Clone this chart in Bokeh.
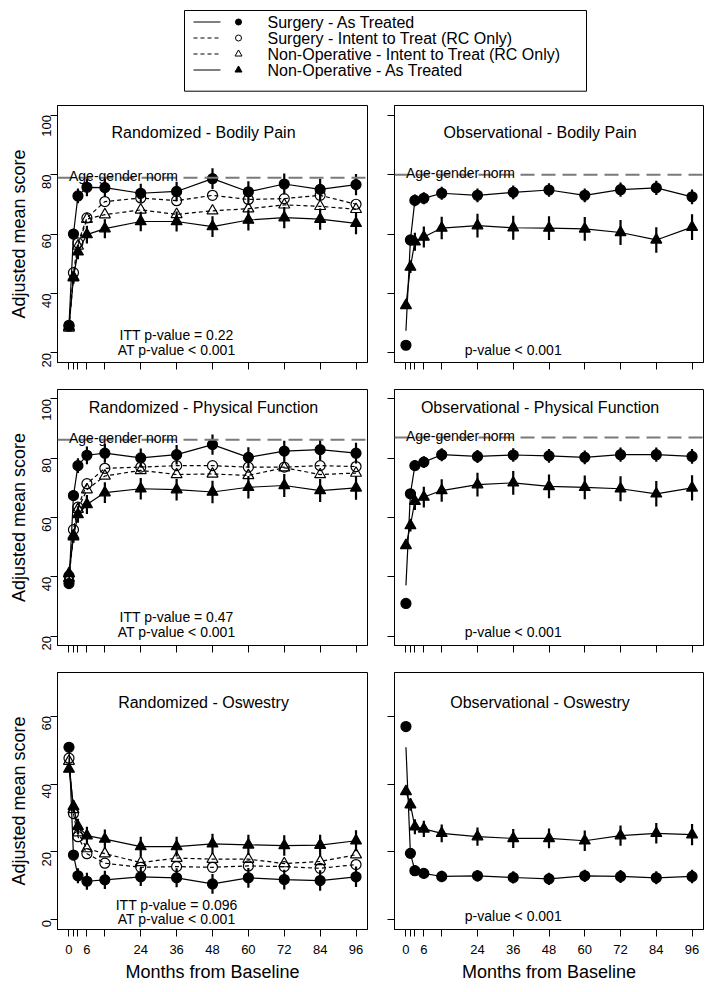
import math
from bokeh.plotting import figure
from bokeh.layouts import column, row
from bokeh.models import Range1d, FixedTicker, Label, Span
from bokeh.embed import file_html
from bokeh.resources import INLINE
from bokeh.core.properties import value

FONT = "Liberation Sans"

# ---------------- data ----------------
months = [0, 1.5, 3, 6, 12, 24, 36, 48, 60, 72, 84, 96]
month_ticks = [0, 1.5, 3, 6, 12, 24, 36, 48, 60, 72, 84, 96]
month_tick_labels = ["0", "", "", "6", "", "24", "36", "48", "60", "72", "84", "96"]
series_labels = ["Surgery - As Treated",
                 "Surgery - Intent to Treat (RC Only)",
                 "Non-Operative - Intent to Treat (RC Only)",
                 "Non-Operative - As Treated"]

# Randomized - Bodily Pain
rbp_surg_at = [29.3, 60.0, 72.8, 75.7, 75.6, 73.7, 74.3, 78.6, 74.2, 76.8, 75.0, 76.6]
rbp_surg_itt = [29.0, 47.0, 57.0, 65.4, 70.9, 72.1, 71.2, 73.0, 71.6, 71.9, 73.0, 70.0]
rbp_nonop_itt = [28.4, 45.5, 56.0, 65.0, 66.5, 68.1, 66.6, 67.8, 68.5, 69.8, 69.3, 68.3]
rbp_nonop_at = [28.9, 45.3, 54.0, 59.8, 61.8, 64.2, 64.2, 62.5, 64.7, 65.5, 65.0, 63.6]
rbp_surg_err = [0.8, 1.8, 2.5, 3.0, 3.2, 3.2, 3.3, 3.5, 3.5, 3.5, 3.6, 3.6]
rbp_nonop_err = [0.8, 2.0, 2.5, 3.0, 3.2, 3.3, 3.4, 3.5, 3.5, 3.6, 3.6, 3.7]
rbp_norm = 78.9

# Observational - Bodily Pain
obp_surg_at = [22.6, 58.0, 71.3, 72.0, 73.7, 73.0, 74.0, 74.8, 73.0, 74.9, 75.5, 72.5]
obp_surg_line_start = 27.5
obp_nonop_at = [36.0, 48.9, 57.4, 59.0, 62.0, 62.8, 62.1, 62.0, 61.7, 60.5, 58.0, 62.3]
obp_surg_err = [0.0, 1.5, 2.0, 2.0, 2.2, 2.3, 2.3, 2.3, 2.3, 2.4, 2.4, 2.5]
obp_nonop_err = [0.0, 2.0, 3.0, 3.5, 3.8, 4.0, 4.0, 4.0, 4.0, 4.2, 4.3, 4.3]
obp_norm = 79.9

# Randomized - Physical Function
rpf_surg_at = [37.7, 67.4, 77.5, 81.0, 81.7, 80.1, 81.2, 84.6, 80.3, 82.4, 82.9, 81.7]
rpf_surg_itt = [40.3, 55.9, 63.5, 71.4, 76.6, 77.0, 77.5, 77.5, 77.0, 77.0, 77.5, 77.2]
rpf_nonop_itt = [39.5, 54.0, 62.8, 69.4, 74.0, 75.9, 74.5, 74.7, 74.2, 76.8, 74.5, 75.0]
rpf_nonop_at = [41.1, 53.5, 61.0, 64.4, 68.4, 69.7, 69.4, 68.6, 70.2, 70.8, 69.1, 70.0]
rpf_surg_err = [0.8, 1.8, 2.5, 3.0, 3.2, 3.2, 3.3, 3.4, 3.4, 3.5, 3.5, 3.5]
rpf_nonop_err = [0.8, 2.0, 2.8, 3.2, 3.5, 3.6, 3.7, 3.8, 3.8, 3.9, 3.9, 4.0]
rpf_norm = 86.2

# Observational - Physical Function
opf_surg_at = [31.0, 68.0, 77.5, 78.7, 81.2, 80.6, 81.1, 80.8, 80.3, 81.2, 81.2, 80.6]
opf_surg_line_start = 37.1
opf_nonop_at = [50.6, 57.3, 65.5, 66.9, 69.1, 71.1, 71.7, 70.5, 70.2, 69.7, 68.0, 70.0]
opf_surg_err = [0.0, 1.2, 1.8, 2.0, 2.2, 2.2, 2.3, 2.3, 2.3, 2.4, 2.4, 2.5]
opf_nonop_err = [0.0, 2.0, 3.0, 3.5, 3.8, 4.0, 4.0, 4.0, 4.0, 4.2, 4.3, 4.3]
opf_norm = 87.0

# Randomized - Oswestry
ros_surg_at = [50.8, 19.1, 13.0, 11.4, 11.8, 12.7, 12.4, 10.6, 12.4, 11.9, 11.6, 12.7]
ros_surg_itt = [47.6, 31.3, 24.5, 19.5, 16.7, 15.5, 15.7, 15.5, 15.9, 15.7, 15.2, 16.3]
ros_nonop_itt = [46.7, 32.5, 25.7, 21.0, 19.5, 16.9, 18.2, 17.9, 17.9, 16.6, 17.2, 19.2]
ros_nonop_at = [44.4, 33.4, 27.5, 24.8, 23.8, 21.6, 21.6, 22.4, 22.1, 21.9, 22.0, 23.3]
ros_surg_err = [0.8, 1.5, 2.2, 2.5, 2.7, 2.7, 2.8, 2.9, 2.9, 2.9, 3.0, 3.0]
ros_nonop_err = [0.8, 1.8, 2.3, 2.6, 2.8, 2.9, 2.9, 3.0, 3.0, 3.0, 3.1, 3.1]

# Observational - Oswestry
oos_surg_at = [56.9, 19.6, 14.5, 13.7, 12.8, 13.0, 12.5, 12.1, 13.0, 12.8, 12.4, 12.8]
oos_surg_line_start = 50.8
oos_nonop_at = [37.8, 33.9, 27.4, 26.8, 25.5, 24.5, 24.0, 24.0, 23.3, 24.8, 25.5, 25.1]
oos_surg_err = [0.0, 1.0, 1.5, 1.5, 1.7, 1.7, 1.8, 1.8, 1.8, 1.9, 1.9, 2.0]
oos_nonop_err = [0.0, 1.8, 2.2, 2.4, 2.6, 2.7, 2.8, 2.9, 3.0, 3.0, 3.0, 3.1]

score_ticks = [20, 40, 60, 80, 100]
osw_ticks = [0, 20, 40, 60]

# ---------------- helpers ----------------
X_RANGE = (-3.84, 99.84)
SF_RANGE = (16.8, 103.2)
OSW_RANGE = (-2.8, 72.8)


def make_fig(width, height, left, right, top, bottom, yr):
    p = figure(width=width, height=height, output_backend="svg", toolbar_location=None,
               x_range=Range1d(*X_RANGE), y_range=Range1d(*yr),
               min_border_left=left, min_border_right=right,
               min_border_top=top, min_border_bottom=bottom)
    p.grid.visible = False
    p.outline_line_color = "black"
    p.outline_line_width = 1
    p.background_fill_color = "white"
    p.border_fill_color = "white"
    return p


def style_axes(p, yticks, ylabels, xlabels, ylabel_title):
    p.xaxis.ticker = FixedTicker(ticks=month_ticks)
    p.yaxis.ticker = FixedTicker(ticks=yticks)
    for ax in p.xaxis + p.yaxis:
        ax.major_tick_out = 7
        ax.major_tick_in = 0
        ax.minor_tick_out = 0
        ax.minor_tick_in = 0
        ax.axis_line_color = "black"
        ax.major_tick_line_color = "black"
        ax.major_label_text_font = FONT
        ax.major_label_text_font_size = "13px"
        ax.major_label_text_color = "black"
        ax.axis_label_text_font = FONT
        ax.axis_label_text_font_style = "normal"
        ax.axis_label_text_font_size = "18px"
        ax.axis_label_text_color = "black"
    if xlabels:
        p.xaxis.major_label_overrides = {t: s for t, s in zip(month_ticks, month_tick_labels)}
        p.xaxis.major_label_standoff = 8
        p.xaxis.axis_label = "Months from Baseline"
        p.xaxis.axis_label_standoff = 5
    else:
        p.xaxis.major_label_overrides = {t: "" for t in month_ticks}
        p.xaxis.major_label_standoff = 0
    if ylabels:
        p.yaxis.major_label_orientation = math.pi / 2
        p.yaxis.major_label_standoff = 4
        p.yaxis.axis_label = ylabel_title
        p.yaxis.axis_label_standoff = 6
    else:
        p.yaxis.major_label_overrides = {t: "" for t in yticks}
        p.yaxis.major_label_standoff = 0


def add_series(p, x, y, err, marker, filled, dashed, line_y=None):
    ly = y if line_y is None else line_y
    p.line(x, ly, line_color="black", line_width=1.2,
           line_dash="4 3" if dashed else "solid")
    if err is not None:
        lo = [v - e for v, e in zip(y, err)]
        hi = [v + e for v, e in zip(y, err)]
        p.segment(x0=x, y0=lo, x1=x, y1=hi, line_color="black", line_width=2.2)
    size = 10 if marker == "circle" else 11
    p.scatter(x, y, marker=marker, size=size,
              fill_color="black" if filled else None,
              line_color="black", line_width=1.2)


def add_text(p, x, y, text, size="14px", align="center", baseline="middle", yoff=0):
    p.add_layout(Label(x=x, y=y, text=text, text_font=FONT, text_font_size=size,
                       text_align=align, text_baseline=baseline, text_color="black",
                       y_offset=yoff))


def add_norm(p, norm):
    p.add_layout(Span(location=norm, dimension="width", line_color="#7a7a7a",
                      line_dash="14 7", line_width=2))
    add_text(p, 0, norm, "Age-gender norm", size="14px", align="left",
             baseline="alphabetic", yoff=2)


LW, RW = 380, 331
LB = dict(left=57, right=13)
RB = dict(left=14, right=8)
ROWS = [dict(height=280, top=7, bottom=16),
        dict(height=282, top=11, bottom=15),
        dict(height=330, top=12, bottom=61)]


def rand_panel(r, yr, yticks, title, ty, sa, si, ni, na, se, ne, norm, itt_txt, at_txt, py1, py2, xl):
    p = make_fig(LW, ROWS[r]["height"], LB["left"], LB["right"], ROWS[r]["top"], ROWS[r]["bottom"], yr)
    style_axes(p, yticks, True, xl, "Adjusted mean score")
    if norm is not None:
        add_norm(p, norm)
    add_series(p, months, si, None, "circle", False, True)
    add_series(p, months, ni, None, "triangle", False, True)
    add_series(p, months, na, ne, "triangle", True, False)
    add_series(p, months, sa, se, "circle", True, False)
    add_text(p, 45, ty, title, size="16px")
    add_text(p, 36, py1, itt_txt)
    add_text(p, 36, py2, at_txt)
    return p


def obs_panel(r, yr, yticks, title, ty, sa, sl0, na, se, ne, norm, ptxt, py, xl):
    p = make_fig(RW, ROWS[r]["height"], RB["left"], RB["right"], ROWS[r]["top"], ROWS[r]["bottom"], yr)
    style_axes(p, yticks, False, xl, None)
    if norm is not None:
        add_norm(p, norm)
    add_series(p, months, na, ne, "triangle", True, False)
    add_series(p, months, sa, se, "circle", True, False, line_y=[sl0] + sa[1:])
    add_text(p, 45, ty, title, size="16px")
    add_text(p, 36, py, ptxt)
    return p


p11 = rand_panel(0, SF_RANGE, score_ticks, "Randomized - Bodily Pain", 94,
                 rbp_surg_at, rbp_surg_itt, rbp_nonop_itt, rbp_nonop_at, rbp_surg_err, rbp_nonop_err,
                 rbp_norm, "ITT p-value = 0.22", "AT p-value < 0.001", 25.9, 21.1, False)
p12 = obs_panel(0, SF_RANGE, score_ticks, "Observational - Bodily Pain", 94,
                obp_surg_at, obp_surg_line_start, obp_nonop_at, obp_surg_err, obp_nonop_err,
                obp_norm, "p-value < 0.001", 21.1, False)
p21 = rand_panel(1, SF_RANGE, score_ticks, "Randomized - Physical Function", 97,
                 rpf_surg_at, rpf_surg_itt, rpf_nonop_itt, rpf_nonop_at, rpf_surg_err, rpf_nonop_err,
                 rpf_norm, "ITT p-value = 0.47", "AT p-value < 0.001", 26.4, 21.2, False)
p22 = obs_panel(1, SF_RANGE, score_ticks, "Observational - Physical Function", 97,
                opf_surg_at, opf_surg_line_start, opf_nonop_at, opf_surg_err, opf_nonop_err,
                opf_norm, "p-value < 0.001", 21.2, False)
p31 = rand_panel(2, OSW_RANGE, osw_ticks, "Randomized - Oswestry", 64,
                 ros_surg_at, ros_surg_itt, ros_nonop_itt, ros_nonop_at, ros_surg_err, ros_nonop_err,
                 None, "ITT p-value = 0.096", "AT p-value < 0.001", 4.3, 0.4, True)
p32 = obs_panel(2, OSW_RANGE, osw_ticks, "Observational - Oswestry", 64,
                oos_surg_at, oos_surg_line_start, oos_nonop_at, oos_surg_err, oos_nonop_err,
                None, "p-value < 0.001", 1.1, True)

# ---------------- legend ----------------
LEG_W, LEG_H = LW + RW, 98
leg = figure(width=LEG_W, height=LEG_H, output_backend="svg", toolbar_location=None,
             x_range=Range1d(0, LEG_W), y_range=Range1d(LEG_H, 0), min_border=0)
leg.axis.visible = False
leg.grid.visible = False
leg.outline_line_color = None
leg.quad(left=184, right=586, top=10, bottom=90.7, fill_color=None, line_color="black", line_width=1)
row_y = [21.5, 37.5, 53.5, 69.5]
leg_dash = ["solid", "4 3", "4 3", "solid"]
leg_marker = ["circle", "circle", "triangle", "triangle"]
leg_fill = ["black", None, None, "black"]
leg_size = [6, 6, 7, 7]
for yy, lab, dsh, mk, fc, sz in zip(row_y, series_labels, leg_dash, leg_marker, leg_fill, leg_size):
    leg.line([193, 220], [yy, yy], line_color="black", line_width=1, line_dash=dsh)
    leg.scatter([238], [yy], marker=mk, size=sz, fill_color=fc, line_color="black", line_width=1)
    leg.text([267], [yy], text=[lab], text_font=value(FONT), text_font_size="16px",
             text_baseline="middle", text_align="left", text_color="black")

layout = column(leg, row(p11, p12), row(p21, p22), row(p31, p32))

with open("out.html", "w") as f:
    f.write(file_html(layout, INLINE))
